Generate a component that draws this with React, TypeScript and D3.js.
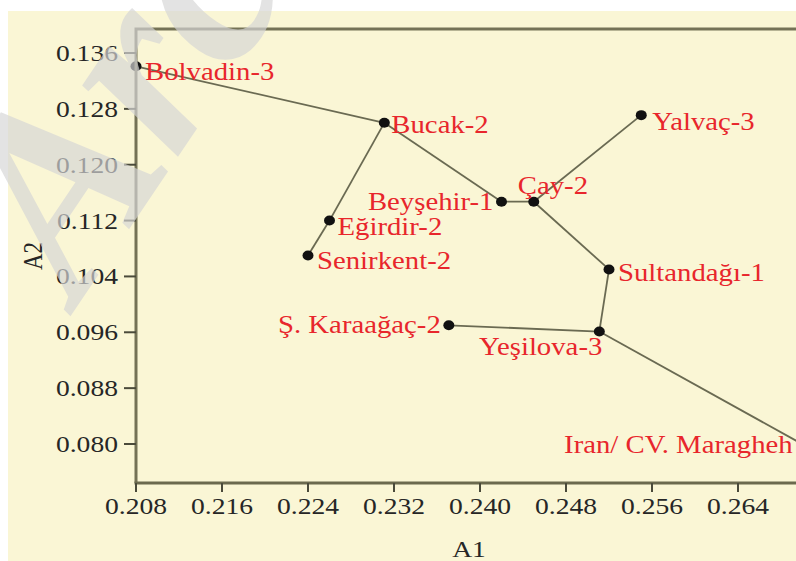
import React, { useRef, useEffect } from 'react';
import * as d3 from 'd3';

// sample codes and their scores on the two axes
const names = ['Bolvadin-3', 'Bucak-2', 'Eğirdir-2', 'Senirkent-2', 'Beyşehir-1', 'Çay-2', 'Yalvaç-3', 'Sultandağı-1', 'Yeşilova-3', 'Ş. Karaağaç-2', 'Iran/ CV. Maragheh'];
const a1 = [0.2080, 0.2311, 0.2260, 0.2240, 0.2420, 0.2450, 0.2550, 0.2520, 0.2511, 0.2371, 0.2702];
const a2 = [0.1341, 0.1260, 0.1120, 0.1070, 0.1147, 0.1147, 0.1271, 0.1050, 0.0961, 0.0970, 0.0798];
// tree links, as index pairs
const links: [number, number][] = [[0, 1], [1, 2], [2, 3], [1, 4], [4, 5], [5, 6], [5, 7], [7, 8], [8, 9], [8, 10]];
const xTicks = [0.208, 0.216, 0.224, 0.232, 0.240, 0.248, 0.256, 0.264];
const yTicks = [0.080, 0.088, 0.096, 0.104, 0.112, 0.120, 0.128, 0.136];

// label placement: dx, dy, anchor
const labelPos: [number, number, string][] = [
  [9, 14, 'start'], [7, 10, 'start'], [8, 14, 'start'], [9, 14, 'start'],
  [-8, 8, 'end'], [-16, -8, 'start'], [11, 15, 'start'], [9, 12, 'start'],
  [3, 23, 'end'], [-8, 8, 'end'], [-12, 8, 'end'],
];

const W = 796, H = 561;
const SERIF = '"Liberation Serif", "Times New Roman", serif';

const App = () => {
  const svgRef = useRef<SVGSVGElement>(null);

  useEffect(() => {
    const svg = d3.select(svgRef.current);
    svg.selectAll('*').remove();

    const x = d3.scaleLinear().domain([0.208, 0.272]).range([136, 824]);
    const y = d3.scaleLinear().domain([0.080, 0.136]).range([444, 53]);

    const top = 29, bottom = 483, left = 136;

    svg.append('rect').attr('x', 8).attr('y', 11).attr('width', W).attr('height', H)
      .attr('fill', '#faf6d5');

    const g = svg.append('g');

    // links
    g.selectAll('.link').data(links).join('line')
      .attr('class', 'link')
      .attr('x1', d => x(a1[d[0]])).attr('y1', d => y(a2[d[0]]))
      .attr('x2', d => x(a1[d[1]])).attr('y2', d => y(a2[d[1]]))
      .attr('stroke', '#6a6a52').attr('stroke-width', 1.8);

    // frame
    svg.append('path')
      .attr('d', `M${left},${bottom} L${left},${top} L${W + 10},${top}`)
      .attr('fill', 'none').attr('stroke', '#747256').attr('stroke-width', 3);
    svg.append('line').attr('x1', left - 1.5).attr('x2', W + 10).attr('y1', bottom).attr('y2', bottom)
      .attr('stroke', '#6b6a4e').attr('stroke-width', 3);

    // x axis ticks
    const xa = svg.append('g');
    xTicks.forEach(t => {
      xa.append('line').attr('x1', x(t)).attr('x2', x(t)).attr('y1', bottom).attr('y2', bottom + 9)
        .attr('stroke', '#4a4a3a').attr('stroke-width', 2);
      xa.append('text').attr('transform', `translate(${x(t)},${bottom + 31}) scale(1.2,1)`)
        .attr('text-anchor', 'middle').attr('font-family', SERIF).attr('font-size', 23)
        .attr('fill', '#262626').text(d3.format('.3f')(t));
    });
    const ya = svg.append('g');
    yTicks.forEach(t => {
      ya.append('line').attr('x1', left - 12).attr('x2', left).attr('y1', y(t)).attr('y2', y(t))
        .attr('stroke', '#4a4a3a').attr('stroke-width', 2);
      ya.append('text').attr('transform', `translate(${left - 18},${y(t) + 8}) scale(1.2,1)`)
        .attr('text-anchor', 'end').attr('font-family', SERIF).attr('font-size', 23)
        .attr('fill', '#262626').text(d3.format('.3f')(t));
    });

    svg.append('text').attr('transform', `translate(469,557) scale(1.2,1)`)
      .attr('text-anchor', 'middle').attr('font-family', SERIF).attr('font-size', 23)
      .attr('fill', '#262626').text('A1');
    svg.append('text').attr('transform', `translate(42,256) rotate(-90) scale(1,1.2)`)
      .attr('text-anchor', 'middle').attr('font-family', SERIF).attr('font-size', 23)
      .attr('fill', '#262626').text('A2');

    // points
    g.selectAll('.pt').data(names).join('ellipse')
      .attr('class', 'pt')
      .attr('cx', (d, i) => x(a1[i])).attr('cy', (d, i) => y(a2[i]))
      .attr('rx', 5.5).attr('ry', 5).attr('fill', '#111');

    g.selectAll('.lbl').data(names).join('text')
      .attr('class', 'lbl')
      .attr('transform', (d, i) => `translate(${x(a1[i]) + labelPos[i][0]},${y(a2[i]) + labelPos[i][1]}) scale(1.15,1)`)
      .attr('text-anchor', (d, i) => labelPos[i][2])
      .attr('font-family', SERIF).attr('font-size', 25)
      .attr('fill', '#e8262c').text(d => d);

    // watermark
    svg.append('text')
      .attr('transform', 'translate(78,305) rotate(-56)')
      .attr('font-family', SERIF).attr('font-size', 260)
      .attr('font-style', 'italic').attr('font-weight', 'bold')
      .attr('fill', '#d6d6d6').attr('opacity', 0.68)
      .text('Archive of SID');
  }, []);

  return (
    <svg ref={svgRef} width={W} height={H}
      style={{ position: 'absolute', left: 0, top: 0, background: '#fff' }} />
  );
};

export default App;
